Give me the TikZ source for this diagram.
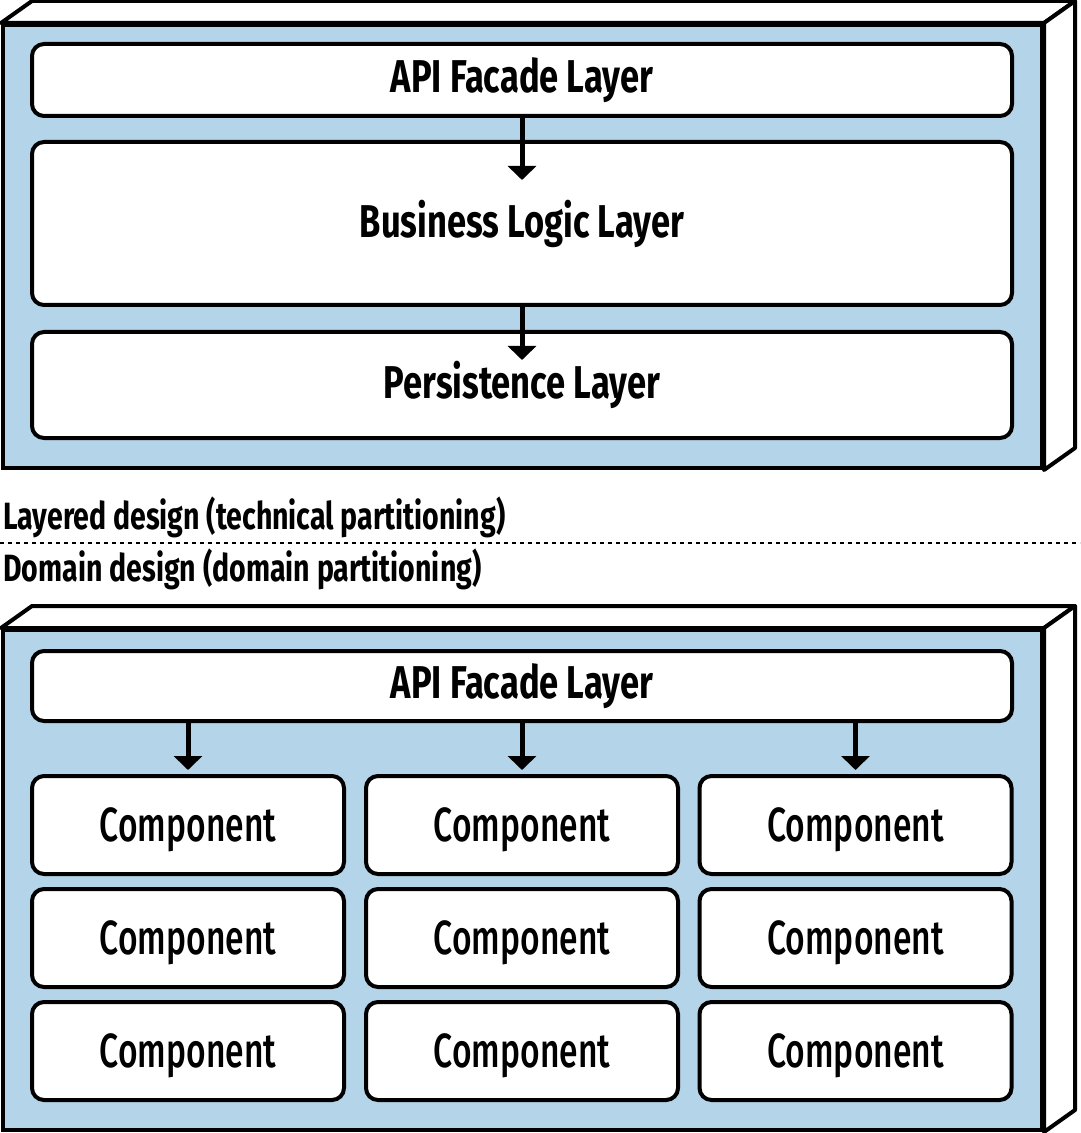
\documentclass[tikz,border=0pt]{standalone}
\usepackage{fontspec}
\setmainfont{Fira Sans}[FakeStretch=0.75]
\newfontfamily\compfont{Fira Sans Medium}[FakeStretch=0.7]
\usetikzlibrary{positioning,calc,arrows.meta}
\tikzset{>={Triangle[width=14pt,length=7pt]}}
\definecolor{panel}{RGB}{180,212,233}
\tikzset{
  layer/.style={draw,line width=2pt,fill=white,rounded corners=6pt,minimum width=490pt,inner sep=0pt},
  comp/.style={draw,line width=2pt,fill=white,rounded corners=6pt,minimum width=156pt,minimum height=49pt,inner sep=0pt,text depth=0pt,font=\compfont\fontsize{24}{28}\selectfont},
  front/.style={draw,line width=2pt,fill=panel,minimum width=519.5pt,inner sep=0pt},
  face/.style={draw,line width=2pt,fill=white,line join=round},
  flow/.style={->,line width=2.5pt}
}
\newcommand*{\hd}[1]{\fontsize{23}{27}\selectfont\bfseries #1}
\begin{document}
\begin{tikzpicture}[x=0.5pt,y=-0.5pt]
\useasboundingbox (0,0) rectangle (1080,1133);
% layered box
\node[front,minimum height=221.5pt] (lay) at (522.5,246.5) {};
\draw[face] (lay.north west) -- ++(31,-22) -- ($(lay.north east)+(31,-22)$) -- (lay.north east) -- cycle;
\draw[face] (lay.north east) -- ++(31,-22) -- ($(lay.south east)+(31,-22)$) -- (lay.south east) -- cycle;
\node[layer,minimum height=36pt] (api) at (522,80) {\hd{API Facade Layer}};
\node[layer,minimum height=81.5pt] (bl) at (522,223.5) {\hd{Business Logic Layer}};
\node[layer,minimum height=53pt] (pl) at (522,385) {\hd{Persistence Layer}};
\coordinate (blin) at ($(bl.north)+(0,40)$);
\coordinate (plin) at ($(pl.north)+(0,30)$);
\draw[flow] (api.south) -- (blin);
\draw[flow] (bl.south) -- (plin);
% captions
\node[anchor=west,inner sep=0pt,font=\fontsize{19}{23}\selectfont\bfseries] (tcap) at (3,517) {Layered design (technical partitioning)};
\coordinate (sepl) at (0,543);
\coordinate (sepr) at (1080,543);
\draw[line width=0.7pt,dash pattern=on 2pt off 2pt] (sepl) -- (sepr);
\node[anchor=west,inner sep=0pt,font=\fontsize{19}{23}\selectfont\bfseries] (dcap) at (3,569) {Domain design (domain partitioning)};
% domain box
\node[front,minimum height=250pt] (dom) at (522.5,880) {};
\draw[face] (dom.north west) -- ++(31,-22) -- ($(dom.north east)+(31,-22)$) -- (dom.north east) -- cycle;
\draw[face] (dom.north east) -- ++(31,-22) -- ($(dom.south east)+(31,-22)$) -- (dom.south east) -- cycle;
\node[layer,minimum height=35pt] (dapi) at (522,686) {\hd{API Facade Layer}};
\foreach \c/\x in {1/188,2/522,3/855.5}{
  \foreach \r/\y in {1/825,2/938,3/1051}
    \node[comp] (c\r\c) at (\x,\y) {Component};
  \draw[flow,shorten >=2pt] (dapi.south -| c1\c) -- (c1\c.north);
}
\end{tikzpicture}
\end{document}
